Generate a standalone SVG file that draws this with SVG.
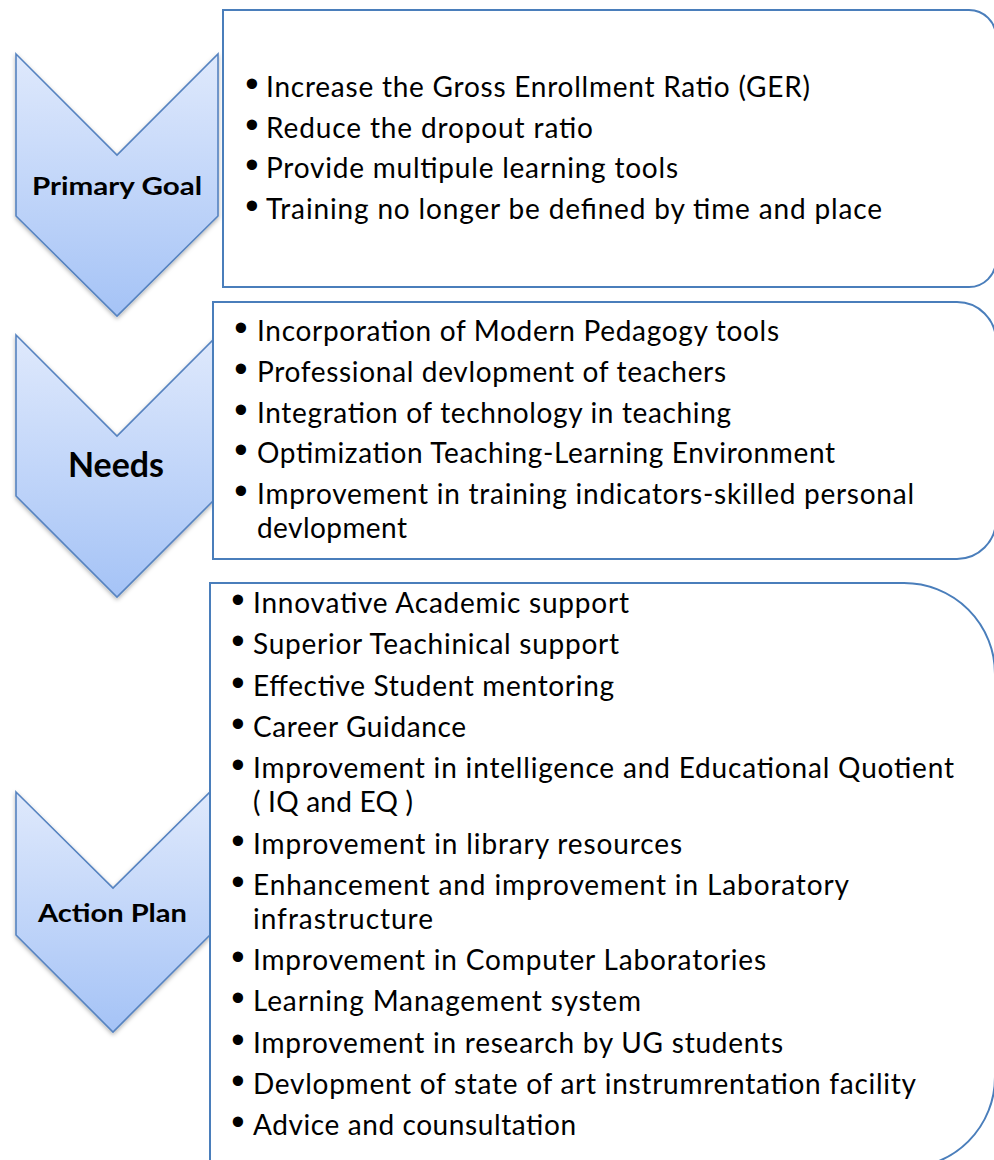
<svg xmlns="http://www.w3.org/2000/svg" width="994" height="1160" viewBox="0 0 994 1160">
  <style>
    .chev { fill: url(#chevGrad); stroke: #5683c0; stroke-width: 1.6; stroke-linejoin: miter; filter: url(#shadow); }
    .box { fill: #ffffff; stroke: #4a7ebb; stroke-width: 2; }
    .label { font-family: Lato, "Liberation Sans", sans-serif; font-weight: bold; fill: #000; text-anchor: middle; }
    .item { font-family: Lato, "Liberation Sans", sans-serif; font-size: 28px; fill: #000; }
    .bul { font-family: "Liberation Sans", sans-serif; font-size: 38px; fill: #000; text-anchor: middle; }
  </style>
  <defs>
    <linearGradient id="chevGrad" x1="0" y1="0" x2="0" y2="1">
      <stop offset="0" stop-color="#dfe9fc"/>
      <stop offset="1" stop-color="#a5c3f6"/>
    </linearGradient>
    <filter id="shadow" x="-10%" y="-10%" width="130%" height="130%">
      <feDropShadow dx="0" dy="2" stdDeviation="2" flood-color="#000" flood-opacity="0.3"/>
    </filter>
  </defs>
  <rect width="994" height="1160" fill="#ffffff"/>

  <g id="chevron-primary-goal">
    <path class="chev" d="M16,54 L117,155 L218,54 L218,216 L117,316 L16,216 Z"/>
    <text class="label" x="117" y="195" font-size="25.5" textLength="170" lengthAdjust="spacingAndGlyphs">Primary Goal</text>
  </g>

  <g id="chevron-needs">
    <path class="chev" d="M16,335 L117,436 L218,335 L218,496 L117,597 L16,496 Z"/>
    <text class="label" x="116" y="477" font-size="33.5" textLength="96" lengthAdjust="spacingAndGlyphs">Needs</text>
  </g>

  <g id="chevron-action-plan">
    <path class="chev" d="M16,792 L113,888 L210,792 L210,935 L113,1032 L16,935 Z"/>
    <text class="label" x="112.5" y="922" font-size="25" textLength="149" lengthAdjust="spacingAndGlyphs">Action Plan</text>
  </g>

  <g id="box-primary-goal">
    <path class="box" d="M223,10 H969 A27,27 0 0 1 996,37 V260 A27,27 0 0 1 969,287 H223 Z"/>
    <text class="bul" x="252" y="97">•</text>
    <text class="item" x="266" y="97" textLength="544">Increase the Gross Enrollment Ratio (GER)</text>
    <text class="bul" x="252" y="137.7">•</text>
    <text class="item" x="266" y="137.7" textLength="327">Reduce the dropout ratio</text>
    <text class="bul" x="252" y="178.4">•</text>
    <text class="item" x="266" y="178.4" textLength="412">Provide multipule learning tools</text>
    <text class="bul" x="252" y="219.1">•</text>
    <text class="item" x="266" y="219.1" textLength="616">Training no longer be defined by time and place</text>
  </g>

  <g id="box-needs">
    <path class="box" d="M213,302 H957 A39,39 0 0 1 996,341 V520 A39,39 0 0 1 957,559 H213 Z"/>
    <text class="bul" x="241" y="341">•</text>
    <text class="item" x="257" y="341" textLength="522">Incorporation of Modern Pedagogy tools</text>
    <text class="bul" x="241" y="381.8">•</text>
    <text class="item" x="257" y="381.8" textLength="469">Professional devlopment of teachers</text>
    <text class="bul" x="241" y="422.6">•</text>
    <text class="item" x="257" y="422.6" textLength="474">Integration of technology in teaching</text>
    <text class="bul" x="241" y="463.4">•</text>
    <text class="item" x="257" y="463.4" textLength="578">Optimization Teaching-Learning Environment</text>
    <text class="bul" x="241" y="504.2">•</text>
    <text class="item" x="257" y="504.2" textLength="657">Improvement in training indicators-skilled personal</text>
    <text class="item" x="257" y="538.2" textLength="150">devlopment</text>
  </g>

  <g id="box-action-plan">
    <path class="box" d="M210,583 H904 A91,91 0 0 1 995,674 V1077 A91,91 0 0 1 904,1168 H210 Z"/>
    <text class="bul" x="238" y="613">•</text>
    <text class="item" x="253" y="613" textLength="376">Innovative Academic support</text>
    <text class="bul" x="238" y="654.3">•</text>
    <text class="item" x="253" y="654.3" textLength="366">Superior Teachinical support</text>
    <text class="bul" x="238" y="695.6">•</text>
    <text class="item" x="253" y="695.6" textLength="361">Effective Student mentoring</text>
    <text class="bul" x="238" y="736.9">•</text>
    <text class="item" x="253" y="736.9" textLength="213">Career Guidance</text>
    <text class="bul" x="238" y="778.2">•</text>
    <text class="item" x="253" y="778.2" textLength="701">Improvement in intelligence and Educational Quotient</text>
    <text class="item" x="253" y="812.2" textLength="160">( IQ and EQ )</text>
    <text class="bul" x="238" y="853.5">•</text>
    <text class="item" x="253" y="853.5" textLength="429">Improvement in library resources</text>
    <text class="bul" x="238" y="894.8">•</text>
    <text class="item" x="253" y="894.8" textLength="596">Enhancement and improvement in Laboratory</text>
    <text class="item" x="253" y="928.8" textLength="180">infrastructure</text>
    <text class="bul" x="238" y="970.1">•</text>
    <text class="item" x="253" y="970.1" textLength="513">Improvement in Computer Laboratories</text>
    <text class="bul" x="238" y="1011.4">•</text>
    <text class="item" x="253" y="1011.4" textLength="388">Learning Management system</text>
    <text class="bul" x="238" y="1052.7">•</text>
    <text class="item" x="253" y="1052.7" textLength="530">Improvement in research by UG students</text>
    <text class="bul" x="238" y="1094">•</text>
    <text class="item" x="253" y="1094" textLength="663">Devlopment of state of art instrumrentation facility</text>
    <text class="bul" x="238" y="1135.3">•</text>
    <text class="item" x="253" y="1135.3" textLength="323">Advice and counsultation</text>
  </g>

  <g id="connectors"></g>
</svg>
